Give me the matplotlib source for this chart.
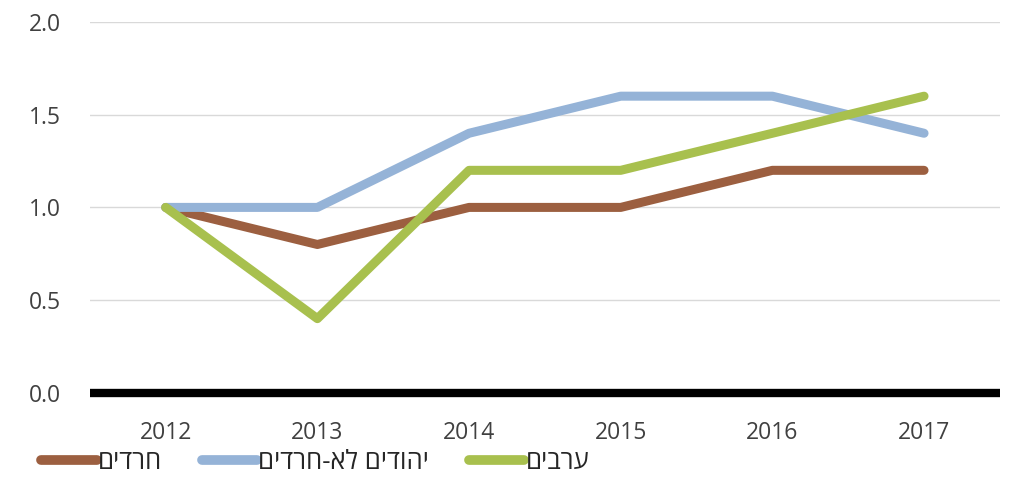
import matplotlib.pyplot as plt
import numpy as np

plt.rcParams['font.family'] = ['Open Sans', 'Liberation Sans', 'DejaVu Sans']

years = ['2012', '2013', '2014', '2015', '2016', '2017']
haredim = [1.0, 0.8, 1.0, 1.0, 1.2, 1.2]
jews_non_haredi = [1.0, 1.0, 1.4, 1.6, 1.6, 1.4]
arabs = [1.0, 0.4, 1.2, 1.2, 1.4, 1.6]
series_names = ['חרדים', 'יהודים לא-חרדים', 'ערבים']

def heb(s):
    # matplotlib has no bidi support, reverse for visual order
    return s[::-1]

fig = plt.figure(figsize=(10.1, 4.79), dpi=100)
ax = fig.add_axes([0.089, 0.18, 0.901, 0.774])

x = np.arange(len(years))
colors = ['#9C5F40', '#95B3D7', '#A8C04E']
for vals, name, c in zip([haredim, jews_non_haredi, arabs], series_names, colors):
    ax.plot(x, vals, color=c, linewidth=6.5, solid_capstyle='round',
            solid_joinstyle='round', label=heb(name))

ax.set_xlim(-0.5, len(years) - 0.5)
ax.set_ylim(0, 2.0)
ax.set_yticks([0, 0.5, 1.0, 1.5, 2.0])
ax.set_yticklabels(['0.0', '0.5', '1.0', '1.5', '2.0'])
ax.set_xticks(x)
ax.set_xticklabels(years)
ax.grid(axis='y', color='#D9D9D9', linewidth=1)
ax.set_axisbelow(True)
ax.axhline(0, color='black', linewidth=6, clip_on=False, zorder=5,
           solid_capstyle='butt')
for sp in ax.spines.values():
    sp.set_visible(False)
ax.tick_params(length=0, labelsize=16.5, labelcolor='#404040')
ax.tick_params(axis='x', pad=20)
ax.tick_params(axis='y', pad=21)

leg = fig.legend(loc='lower left', bbox_to_anchor=(0.018, -0.04), ncol=3,
                 frameon=False, fontsize=18.5, handlelength=2.15, handletextpad=0.05,
                 columnspacing=1.55, labelcolor='#262626')
for h in leg.get_lines():
    h.set_linewidth(7)

fig.savefig('out.png', dpi=100)
